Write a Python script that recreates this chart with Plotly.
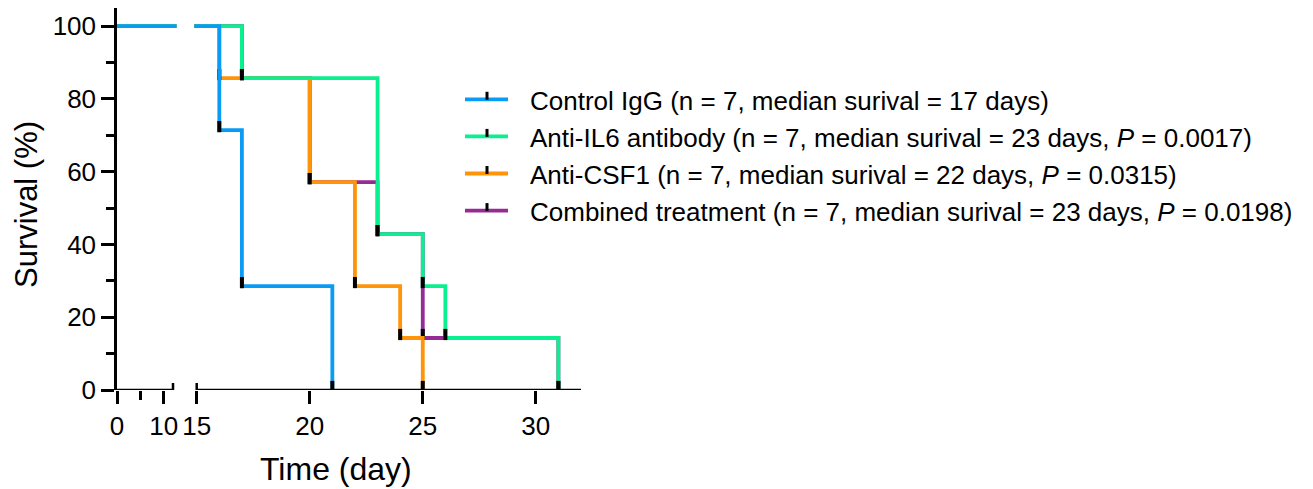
import plotly.graph_objects as go

# ---------------- data ----------------
group_names = [
    "Control IgG (n = 7, median surival = 17 days)",
    "Anti-IL6 antibody (n = 7, median surival = 23 days, <i>P</i> = 0.0017)",
    "Anti-CSF1 (n = 7, median surival = 22 days, <i>P</i> = 0.0315)",
    "Combined treatment (n = 7, median surival = 23 days, <i>P</i> = 0.0198)",
]
control_days = [0, 16, 17, 21]
control_surv = [100, 71.43, 28.57, 0]
il6_days = [0, 17, 23, 25, 26, 31]
il6_surv = [100, 85.71, 42.86, 28.57, 14.29, 0]
csf1_days = [0, 16, 20, 22, 24, 25]
csf1_surv = [100, 85.71, 57.14, 28.57, 14.29, 0]
comb_days = [0, 17, 20, 23, 25, 31]
comb_surv = [100, 85.71, 57.14, 42.86, 14.29, 0]

y_ticks = [0, 20, 40, 60, 80, 100]
x_ticks_left = [0, 10]
x_ticks_right = [15, 20, 25, 30]

colors = ["#0A9CF5", "#0AF08E", "#FF9408", "#972B96"]
series = [
    (control_days, control_surv),
    (il6_days, il6_surv),
    (csf1_days, csf1_surv),
    (comb_days, comb_surv),
]

# ---------------- geometry (page pixels) ----------------
PAGE_W, PAGE_H = 1313, 489
OFF = 8  # default body margin of the html page
W, H = PAGE_W - OFF, PAGE_H - OFF
PLOT_L, PLOT_R, PLOT_T, PLOT_B = 117, 581, 8, 390  # page px
ML = PLOT_L - OFF
MT = PLOT_T - OFF
MR = W - (PLOT_R - OFF)
MB = H - (PLOT_B - OFF)
PW = PLOT_R - PLOT_L
PH = PLOT_B - PLOT_T
Y_MAX = 105
LEFT_END_PX = 176.5
RIGHT_START_PX = 194.3
LEFT_PPD = 4.667
RIGHT_PPD = 22.6

left_range = [0, (LEFT_END_PX - PLOT_L) / LEFT_PPD]
left_domain = [0, (LEFT_END_PX - PLOT_L) / PW]
right_start_val = 15 - (196.7 - RIGHT_START_PX) / RIGHT_PPD
right_range = [right_start_val, 32]
right_domain = [(RIGHT_START_PX - PLOT_L) / PW, 1]

marker_off = 3.5 * Y_MAX / PH  # marker sits just above the step corner


def px_x(px):
    return (px - PLOT_L) / PW


def px_y(py):
    return (PLOT_B - py) / PH


FONT = "Liberation Sans, Arial"

fig = go.Figure()

# draw order: bottom -> top : combined, csf1, il6, control
for idx in [3, 2, 1, 0]:
    t, s = series[idx]
    for xa in ["x", "x2"]:
        fig.add_trace(go.Scatter(
            x=t, y=s, xaxis=xa, yaxis="y", mode="lines",
            line=dict(color=colors[idx], width=3.8, shape="hv"),
            showlegend=False, hoverinfo="skip"))
        fig.add_trace(go.Scatter(
            x=t[1:], y=[v + marker_off for v in s[1:]], xaxis=xa, yaxis="y",
            mode="markers",
            marker=dict(symbol="line-ns", size=8, color="black",
                        line=dict(color="black", width=4)),
            showlegend=False, hoverinfo="skip"))

tick_font = dict(family=FONT, size=26, color="black")

fig.update_layout(
    width=W, height=H,
    margin=dict(l=ML, r=MR, t=MT, b=MB, pad=0),
    paper_bgcolor="white", plot_bgcolor="white",
    showlegend=False,
    font=dict(family=FONT, color="black"),
    xaxis=dict(domain=left_domain, range=left_range, showline=False,
               showgrid=False, zeroline=False, anchor="y",
               tickvals=x_ticks_left, ticks="outside", ticklen=13,
               tickwidth=2.5, tickcolor="black", tickfont=tick_font,
               minor=dict(tickvals=[5], ticks="outside", ticklen=9,
                          tickwidth=2.5, tickcolor="black")),
    xaxis2=dict(domain=right_domain, range=right_range, showline=False,
                showgrid=False, zeroline=False, anchor="y",
                tickvals=x_ticks_right, ticks="outside", ticklen=13,
                tickwidth=2.5, tickcolor="black", tickfont=tick_font),
    yaxis=dict(range=[0, Y_MAX], showline=True, linewidth=2.5,
               linecolor="black", showgrid=False, zeroline=False,
               anchor="x", tickvals=y_ticks, ticks="outside", ticklen=13,
               tickwidth=2.5, tickcolor="black", tickfont=tick_font,
               minor=dict(dtick=10, ticks="outside", ticklen=8,
                          tickwidth=2.5, tickcolor="black")),
)

shapes = []
axis_line = dict(color="black", width=2.5)
# broken x axis
shapes.append(dict(type="line", xref="x", yref="y", x0=0, x1=12, y0=0, y1=0,
                   line=axis_line))
shapes.append(dict(type="line", xref="x", yref="y", ysizemode="pixel",
                   yanchor=0, x0=12, x1=12, y0=-5, y1=7, line=axis_line))
shapes.append(dict(type="line", xref="x2", yref="y", x0=15, x1=32, y0=0,
                   y1=0, line=axis_line))
shapes.append(dict(type="line", xref="x2", yref="y", ysizemode="pixel",
                   yanchor=0, x0=15, x1=15, y0=-5, y1=7, line=axis_line))

# manual legend
annotations = []
legend_y0 = 99.3
legend_dy = 37.1
for i in range(4):
    ly = legend_y0 + i * legend_dy
    shapes.append(dict(type="line", xref="paper", yref="paper",
                       x0=px_x(465), x1=px_x(508), y0=px_y(ly), y1=px_y(ly),
                       line=dict(color=colors[i], width=3.8)))
    shapes.append(dict(type="line", xref="paper", yref="paper",
                       x0=px_x(487), x1=px_x(487), y0=px_y(ly + 0.5),
                       y1=px_y(ly - 7.5), line=dict(color="black", width=3)))
    annotations.append(dict(xref="paper", yref="paper", x=px_x(528),
                            y=px_y(ly + 1.5), xanchor="left", yanchor="middle",
                            text=group_names[i], showarrow=False,
                            font=dict(family=FONT, size=26, color="black")))

# axis titles
annotations.append(dict(xref="paper", yref="paper", x=px_x(335.7),
                        y=px_y(469), xanchor="center", yanchor="middle",
                        text="Time (day)", showarrow=False,
                        font=dict(family=FONT, size=32, color="black")))
annotations.append(dict(xref="paper", yref="paper", x=px_x(26),
                        y=px_y(205), xanchor="center", yanchor="middle",
                        text="Survival (%)", textangle=-90, showarrow=False,
                        font=dict(family=FONT, size=31, color="black")))

fig.update_layout(shapes=shapes, annotations=annotations)

fig.write_html("out.html")
